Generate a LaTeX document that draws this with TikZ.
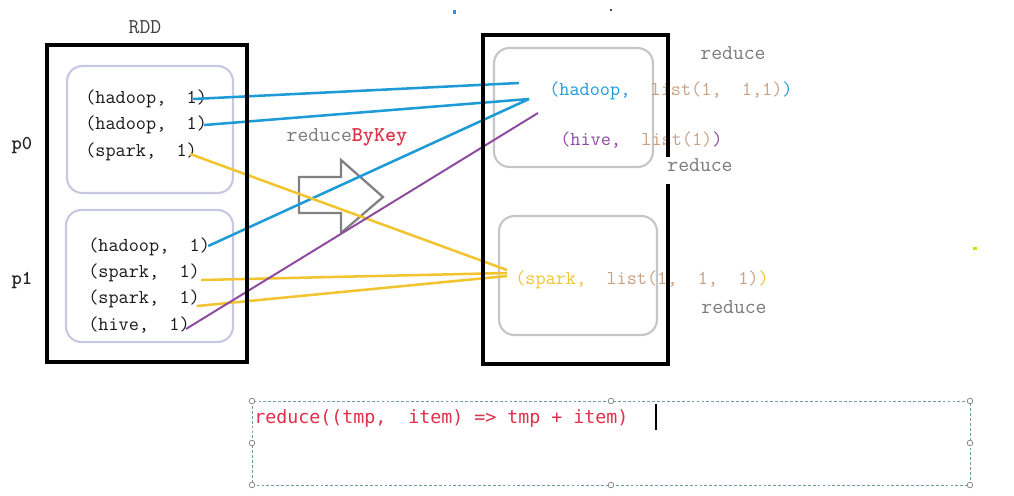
\documentclass[tikz,border=0pt]{standalone}
\usepackage{fontspec}
\newfontfamily\codefont{DejaVu Sans Mono}
\usetikzlibrary{calc}
\definecolor{cblue}{HTML}{1E9BD7}
\definecolor{cyellow}{HTML}{F2C530}
\definecolor{cpurple}{HTML}{8E4A9E}
\definecolor{ctan}{HTML}{C9A284}
\definecolor{clav}{HTML}{C8C8E4}
\definecolor{cgreybox}{HTML}{C6C6C6}
\definecolor{cred}{HTML}{E0304A}
\definecolor{cgreytxt}{HTML}{7A7A7A}
\definecolor{cdash}{HTML}{6E9C9C}
\tikzset{
  txt/.style={font=\ttfamily\fontsize{14}{16}\selectfont\addfontfeature{FakeBold=0.7}, inner sep=0pt, anchor=west, text=black!90},
  lbl/.style={font=\ttfamily\fontsize{15}{18}\selectfont\addfontfeature{FakeBold=0.7}, inner sep=0pt, text=cgreytxt},
  part/.style={draw=clav, line width=1.5pt, rounded corners=11pt},
  rpart/.style={draw=cgreybox, line width=1.5pt, rounded corners=11pt},
  rddbox/.style={draw=black, line width=2.3pt},
  bline/.style={draw=cblue, line width=1.8pt},
  yline/.style={draw=cyellow, line width=1.8pt},
  pline/.style={draw=cpurple, line width=1.4pt},
  handle/.style={draw=gray, fill=white, line width=0.5pt, circle, inner sep=0pt, minimum size=4pt},
}
\begin{document}
\begin{tikzpicture}[x=0.025cm,y=-0.025cm]
\useasboundingbox[fill=white] (0,0) rectangle (1014,495);

% stray marks
\fill[cblue] (452.5,9.5) rectangle (455.5,14);
\fill[black!70] (610,8.5) rectangle (612,11);
\fill[yellow!80!green] (973,246.5) rectangle (977,249.5);

% labels
\node[lbl, text=black!75] (rdd) at (145,27) {RDD};
\node[font=\ttfamily\bfseries\fontsize{14}{16}\selectfont, text=black!85] (p0) at (22,145) {p0};
\node[font=\ttfamily\bfseries\fontsize{14}{16}\selectfont, text=black!85] (p1) at (22,280) {p1};

% left partitions
\draw[part] (67,66) rectangle (233,193);
\draw[part] (66,210) rectangle (233,342);

\node[txt] (l1) at (85,99) {(hadoop,\ \ 1)};
\node[txt] (l2) at (85,125) {(hadoop,\ \ 1)};
\node[txt] (l3) at (85,152) {(spark,\ \ 1)};
\node[txt] (l4) at (88,247) {(hadoop,\ \ 1)};
\node[txt] (l5) at (88,273) {(spark,\ \ 1)};
\node[txt] (l6) at (88,299) {(spark,\ \ 1)};
\node[txt] (l7) at (88,325) {(hive,\ \ 1)};

% reduceByKey
\node[lbl] (rbk) at (347,137) {reduce{\bfseries\color{cred}ByKey}};
\draw[draw=gray, line width=1.6pt, line join=miter]
  (299,177) -- (341,177) -- (341,160) -- (383,197) -- (341,233) -- (341,213) -- (299,213) -- cycle;

% right partitions
\draw[rpart] (494,48) rectangle (653,167);
\draw[rpart] (499,216) rectangle (657,335);

\node[txt] (rh) at (549,91) {{\color{cblue}(hadoop,}\ \ {\color{ctan}list(1,\ \ 1,1)}{\color{cblue})}};
\node[txt] (rv) at (560,140) {{\color{cpurple}(hive,}\ \ {\color{ctan}list(1)}{\color{cpurple})}};
\node[txt] (rs) at (515,280) {{\color{cyellow}(spark,}\ \ {\color{ctan}list(1,\ \ 1,\ \ 1)}{\color{cyellow})}};

\node[lbl] (red1) at (733,53) {reduce};
\node[lbl] (red2) at (700,165) {reduce};
\node[lbl] (red3) at (734,307) {reduce};

% connector end points
\coordinate (hin1) at (519,83);
\coordinate (hin2) at (529,99);
\coordinate (hivein) at (538,113);
\coordinate (sp1) at (507,270);
\coordinate (sp2) at (507,273);
\coordinate (sp3) at (507,276);

% connectors
\draw[bline] ($(l1.east)+(-14,0)$) -- (hin1);
\draw[bline] ($(l2.east)+(-3,0)$) -- (hin2);
\draw[bline] ($(l4.east)+(-2,-1)$) -- (hin2);
\draw[yline] ($(l3.east)+(-7,2)$) -- (sp1);
\draw[yline] ($(l5.east)+(1,7)$) -- (sp2);
\draw[yline] ($(l6.east)+(-3,7)$) -- (sp3);
\draw[pline] ($(l7.east)+(-4,4)$) -- (hivein);

% RDD boxes
\draw[rddbox] (47,45) rectangle (247,362);
\draw[rddbox] (668,157) -- (668,35) -- (483,35) -- (483,364) -- (668,364) -- (668,184);

% code box
\draw[cdash, dash pattern=on 2pt off 1.5pt, line width=0.6pt] (252,401) rectangle (970,485);
\foreach \p in {(252,401),(611,401),(970,401),(252,443),(970,443),(252,485),(611,485),(970,485)}
  \node[handle] at \p {};
\node[font=\codefont\fontsize{13}{16}\selectfont, text=cred, inner sep=0pt, anchor=west] (code) at (254,418) {reduce((tmp,\ \ item) => tmp + item)};
\draw[black, line width=0.8pt] (656,404) -- (656,430);
\end{tikzpicture}
\end{document}
